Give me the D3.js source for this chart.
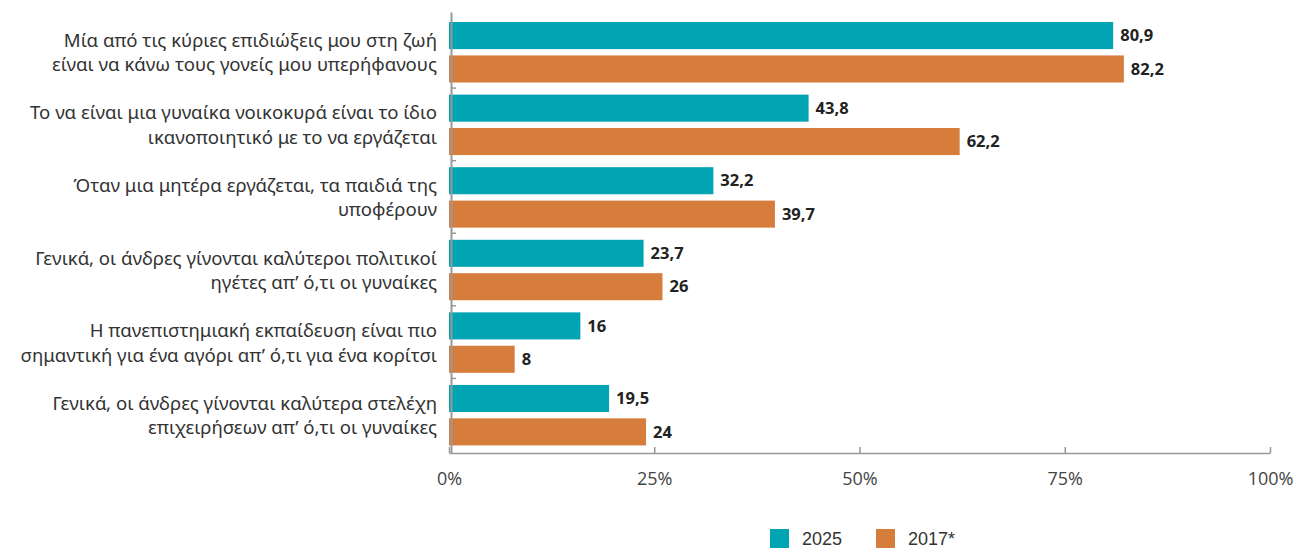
<!DOCTYPE html>
<html>
<head>
<meta charset="utf-8">
<script src="https://cdn.jsdelivr.net/npm/d3@7"></script>
<style>
  body { margin: 0; background: #fff; }
  svg { display: block; font-family: "Noto Sans", "Open Sans", sans-serif; }
  .cat { font-size: 18.6px; fill: #333; }
  .val { font-size: 16.5px; font-weight: 700; fill: #222; }
  .tick text { font-size: 18px; fill: #444; }
  .legend text { font-size: 18px; fill: #333; }
</style>
</head>
<body>
<div id="chart"></div>
<script>
// data
var categories = [
  ["Μία από τις κύριες επιδιώξεις μου στη ζωή", "είναι να κάνω τους γονείς μου υπερήφανους"],
  ["Το να είναι μια γυναίκα νοικοκυρά είναι το ίδιο", "ικανοποιητικό με το να εργάζεται"],
  ["Όταν μια μητέρα εργάζεται, τα παιδιά της", "υποφέρουν"],
  ["Γενικά, οι άνδρες γίνονται καλύτεροι πολιτικοί", "ηγέτες απ’ ό,τι οι γυναίκες"],
  ["Η πανεπιστημιακή εκπαίδευση είναι πιο", "σημαντική για ένα αγόρι απ’ ό,τι για ένα κορίτσι"],
  ["Γενικά, οι άνδρες γίνονται καλύτερα στελέχη", "επιχειρήσεων απ’ ό,τι οι γυναίκες"]
];
var values2025 = [80.9, 43.8, 32.2, 23.7, 16, 19.5];
var values2017 = [82.2, 62.2, 39.7, 26, 8, 24];
var seriesNames = ["2025", "2017*"];
var seriesColors = ["#00a4b2", "#d67d3c"];
var xTicks = [0, 25, 50, 75, 100];

var width = 1297, height = 549;
var svg = d3.select("#chart").append("svg")
  .attr("width", width)
  .attr("height", height);

var x = d3.scaleLinear().domain([0, 100]).range([449, 1270]);
var y = d3.scaleBand().domain(d3.range(categories.length)).range([16, 451.5]);
var step = y.step();
var ySub = d3.scaleBand().domain([0, 1])
  .range([step * 0.083, step * 0.916])
  .paddingInner(0.19);

var rows = categories.map(function (c, i) {
  return { idx: i, label: c, vals: [values2025[i], values2017[i]] };
});

// bars
var g = svg.selectAll(".grp")
  .data(rows)
  .enter().append("g")
  .attr("class", "grp")
  .attr("transform", function (d) { return "translate(0," + y(d.idx) + ")"; });

g.selectAll("rect")
  .data(function (d) { return d.vals.map(function (v, s) { return { v: v, s: s }; }); })
  .enter().append("rect")
  .attr("x", x(0))
  .attr("y", function (d) { return ySub(d.s); })
  .attr("width", function (d) { return x(d.v) - x(0); })
  .attr("height", ySub.bandwidth())
  .attr("fill", function (d) { return seriesColors[d.s]; });

g.selectAll(".val")
  .data(function (d) { return d.vals.map(function (v, s) { return { v: v, s: s }; }); })
  .enter().append("text")
  .attr("class", "val")
  .attr("x", function (d) { return x(d.v) + 7; })
  .attr("y", function (d) { return ySub(d.s) + ySub.bandwidth() / 2; })
  .attr("dy", "0.35em")
  .text(function (d) { return String(d.v).replace(".", ","); });

// category labels
g.append("text")
  .attr("class", "cat")
  .attr("text-anchor", "end")
  .selectAll("tspan")
  .data(function (d) { return d.label; })
  .enter().append("tspan")
  .attr("x", 437)
  .attr("y", function (d, i) { return step * 0.5 - 12 + i * 24.5; })
  .attr("dy", "0.35em")
  .text(function (d) { return d; });

// x axis (ticks point up)
var xAxis = svg.append("g")
  .attr("class", "axis axis--x")
  .attr("transform", "translate(0,453)")
  .call(d3.axisBottom(x).tickValues(xTicks).tickSize(-6).tickSizeOuter(0)
    .tickFormat(function (d) { return d + "%"; }));
xAxis.select(".domain").attr("stroke", "#999").attr("stroke-width", 1.5);
xAxis.selectAll(".tick line").attr("stroke", "#999").attr("stroke-width", 1.5);
xAxis.selectAll(".tick text").attr("y", 19).attr("dy", "0.71em")
  .style("font-family", "'Open Sans', sans-serif");

// y axis line with inward ticks between groups
svg.append("line")
  .attr("x1", 451.5).attr("x2", 451.5)
  .attr("y1", 12.5).attr("y2", 453.5)
  .attr("stroke", "#999").attr("stroke-width", 2);
svg.selectAll(".ytick")
  .data(d3.range(1, categories.length))
  .enter().append("line")
  .attr("class", "ytick")
  .attr("x1", 451.5).attr("x2", 456)
  .attr("y1", function (i) { return y(i) - 0.5; })
  .attr("y2", function (i) { return y(i) - 0.5; })
  .attr("stroke", "#999").attr("stroke-width", 1.5);

// legend
var legend = svg.append("g").attr("class", "legend");
var legX = [770, 876];
seriesNames.forEach(function (name, i) {
  legend.append("rect")
    .attr("x", legX[i]).attr("y", 529)
    .attr("width", 19).attr("height", 19)
    .attr("fill", seriesColors[i]);
  legend.append("text")
    .attr("x", legX[i] + 32).attr("y", 538.5)
    .attr("dy", "0.35em")
    .style("font-family", "'Liberation Sans', Arial, sans-serif")
    .text(name);
});
</script>
</body>
</html>
